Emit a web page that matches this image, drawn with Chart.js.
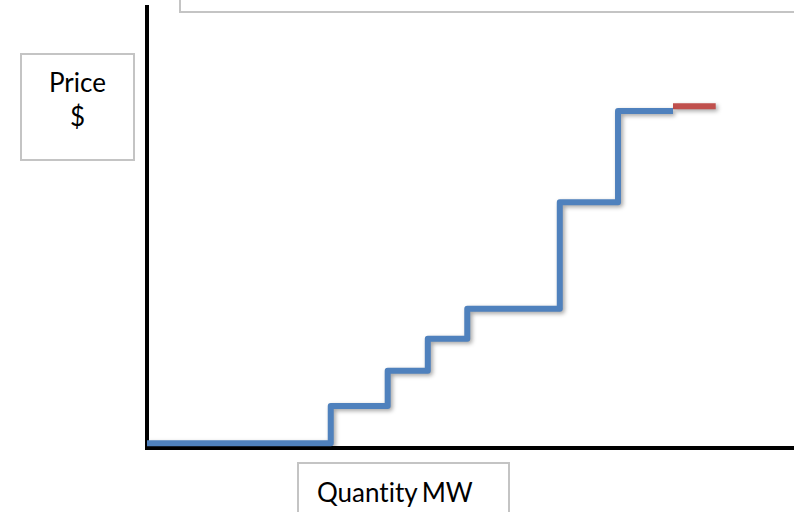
<!DOCTYPE html>
<html>
<head>
<meta charset="utf-8">
<script src="https://cdn.jsdelivr.net/npm/chart.js@4"></script>
<style>
  body { margin: 0; background: #fff; }
  #wrap { position: relative; width: 794px; height: 512px; overflow: hidden; }
  canvas { position: absolute; left: 0; top: 0; }
  .box {
    position: absolute;
    border: 2px solid #c4c4c4;
    background: #fff;
    font-family: Lato, "Noto Sans", sans-serif;
    font-variant-ligatures: none;
    color: #000;
    box-sizing: border-box;
  }
</style>
</head>
<body>
<div id="wrap">
  <canvas id="supplyChart" width="794" height="512"></canvas>
  <div class="box" style="left:179px; top:-20px; width:640px; height:33px;"></div>
  <div class="box" style="left:20px; top:53px; width:115px; height:108px; font-size:26px; line-height:34px; padding-top:10px; text-align:center;">Price<br>$</div>
  <div class="box" style="left:297px; top:462px; width:213px; height:70px; font-size:26px; line-height:56px; padding-left:18px; word-spacing:-2px; text-align:left;">Quantity MW</div>
</div>
<script>
// supply curve (quantity, price) - step changes at each quantity
const quantities = [0, 28.4, 37.2, 43.4, 49.5, 63.8, 72.8, 81.3];
const prices = [1.1, 9.5, 17.5, 24.8, 31.6, 55.7, 76.4, 76.4];

// marginal unit on top
const marginalQty = [81.3, 87.9];
const marginalPrice = [77.5, 77.5];

const toPoints = (xs, ys) => xs.map((x, i) => ({ x: x, y: ys[i] }));

// soft shadow under the lines
const lineShadow = {
  id: 'lineShadow',
  beforeDatasetsDraw(chart) {
    const ctx = chart.ctx;
    ctx.save();
    ctx.shadowColor = 'rgba(0,0,0,0.35)';
    ctx.shadowBlur = 4;
    ctx.shadowOffsetX = 2;
    ctx.shadowOffsetY = 2;
  },
  afterDatasetsDraw(chart) {
    chart.ctx.restore();
  }
};

const supplyChart = new Chart(document.getElementById('supplyChart'), {
  type: 'line',
  data: {
    datasets: [{
      label: 'Supply',
      data: toPoints(quantities, prices),
      stepped: true,
      borderColor: '#4F81BD',
      borderWidth: 6,
      borderJoinStyle: 'round',
      pointRadius: 0,
      fill: false,
    }, {
      label: 'Marginal',
      data: toPoints(marginalQty, marginalPrice),
      borderColor: '#C0504D',
      borderWidth: 6,
      pointRadius: 0,
      fill: false,
    }],
  },
  options: {
    responsive: false,
    animation: false,
    devicePixelRatio: 1,
    layout: {
      padding: { left: 147, right: 0, top: 7, bottom: 64 },
    },
    plugins: {
      legend: { display: false },
      tooltip: { enabled: false },
    },
    scales: {
      x: {
        type: 'linear',
        min: 0,
        max: 100,
        grid: { display: false, drawTicks: false },
        ticks: { display: false },
        border: { display: true, color: '#000', width: 4 },
      },
      y: {
        min: 0,
        max: 100,
        grid: { display: false, drawTicks: false },
        ticks: { display: false },
        border: { display: true, color: '#000', width: 4 },
      },
    },
  },
  plugins: [lineShadow],
});
</script>
</body>
</html>
